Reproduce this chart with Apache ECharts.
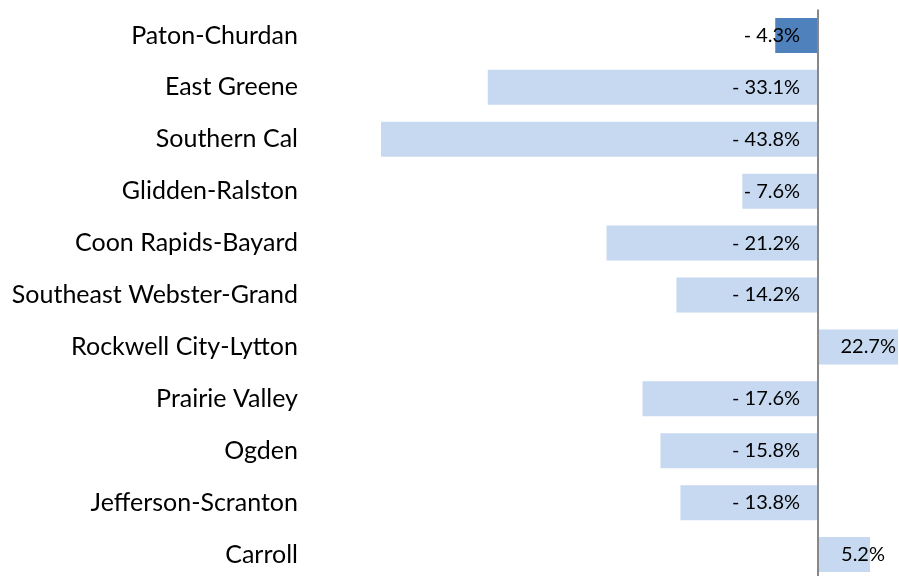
<!DOCTYPE html>
<html>
<head>
<meta charset="utf-8">
<script src="https://cdn.jsdelivr.net/npm/echarts@6/dist/echarts.min.js"></script>
<style>
  html, body { margin: 0; padding: 0; background: #fff; }
  #chart { width: 899px; height: 576px; }
</style>
</head>
<body>
<div id="chart"></div>
<script>
// districts, top to bottom
var districts = ['Paton-Churdan', 'East Greene', 'Southern Cal', 'Glidden-Ralston', 'Coon Rapids-Bayard',
  'Southeast Webster-Grand', 'Rockwell City-Lytton', 'Prairie Valley', 'Ogden', 'Jefferson-Scranton', 'Carroll'];
// percent change
var changes = [-4.3, -33.1, -43.8, -7.6, -21.2, -14.2, 22.7, -17.6, -15.8, -13.8, 5.2];
var highlight = 'Paton-Churdan';

var myChart = echarts.init(document.getElementById('chart'));

function fmt(v) {
  return v < 0 ? '- ' + Math.abs(v).toFixed(1) + '%' : v.toFixed(1) + '%';
}

var barData = changes.map(function(v, i) {
  var lbl;
  if (v < 0) {
    lbl = { position: 'insideRight', distance: 18 };
  } else if (v > 8) {
    lbl = { position: 'insideRight', distance: 2 };
  } else {
    lbl = { position: 'right', offset: [-34, 0] };
  }
  return {
    value: v,
    itemStyle: { color: districts[i] == highlight ? '#4F81BD' : '#C6D9F1' },
    label: lbl
  };
});

var option = {
  animation: false,
  grid: { left: 379, width: 519, top: 9.5, height: 571, outerBoundsMode: 'none' },
  xAxis: {
    type: 'value',
    min: -44,
    max: 8,
    show: false
  },
  yAxis: {
    type: 'category',
    inverse: true,
    data: districts,
    axisLine: { show: false },
    axisTick: { show: false },
    axisLabel: {
      margin: 81,
      fontFamily: 'Lato',
      fontSize: 25,
      color: '#000',
      padding: [6, 0, 0, 0]
    }
  },
  series: [{
    type: 'bar',
    data: barData,
    barWidth: 35,
    clip: true,
    label: {
      show: true,
      fontFamily: 'Lato',
      fontSize: 20,
      color: '#000',
      formatter: function(p) { return fmt(p.value); }
    },
    markLine: {
      silent: true,
      symbol: 'none',
      label: { show: false },
      lineStyle: { color: '#888', width: 2, type: 'solid' },
      data: [{ xAxis: 0 }]
    }
  }]
};
myChart.setOption(option);
</script>
</body>
</html>
